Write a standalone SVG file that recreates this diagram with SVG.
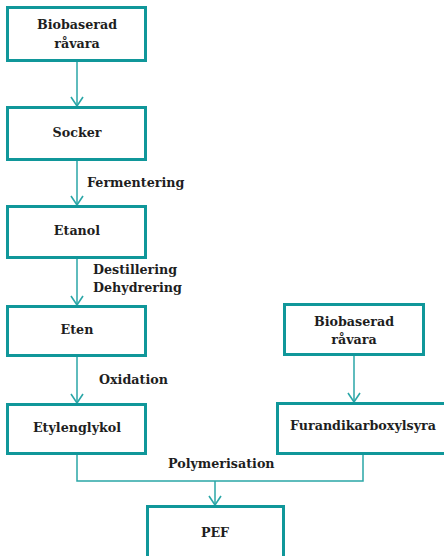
<svg xmlns="http://www.w3.org/2000/svg" width="444" height="556" viewBox="0 0 444 556">
  <style>
    .box { fill: #ffffff; stroke: #10979a; stroke-width: 3; }
    .lbl { font-family: "DejaVu Serif", "Liberation Serif", serif; font-weight: bold; font-size: 12.7px; fill: #1e1e1e; }
    .mid { text-anchor: middle; }
    .conn { fill: none; stroke: #2aa6a7; stroke-width: 1.5; }
  </style>
  <defs>
    <marker id="vhead" markerUnits="userSpaceOnUse" viewBox="-11 -8 12 16" markerWidth="12" markerHeight="16" refX="0" refY="0" orient="auto">
      <path d="M-9,-6 L0,0 L-9,6" fill="none" stroke="#2aa6a7" stroke-width="1.6"/>
    </marker>
  </defs>

  <rect width="444" height="556" fill="#ffffff"/>

  <g id="connectors">
    <line class="conn" x1="77" y1="62" x2="77" y2="106" marker-end="url(#vhead)"/>
    <line class="conn" x1="77" y1="161" x2="77" y2="205" marker-end="url(#vhead)"/>
    <line class="conn" x1="77" y1="259" x2="77" y2="305" marker-end="url(#vhead)"/>
    <line class="conn" x1="77" y1="357" x2="77" y2="403" marker-end="url(#vhead)"/>
    <line class="conn" x1="354" y1="356" x2="354" y2="402" marker-end="url(#vhead)"/>
    <polyline class="conn" points="77,455 77,481 363,481 363,455"/>
    <line class="conn" x1="215" y1="481" x2="215" y2="505" marker-end="url(#vhead)"/>
    <text class="lbl" x="87" y="187">Fermentering</text>
    <text class="lbl" x="93" y="274">Destillering</text>
    <text class="lbl" x="93" y="292">Dehydrering</text>
    <text class="lbl" x="99" y="384">Oxidation</text>
    <text class="lbl" x="168" y="468">Polymerisation</text>
  </g>

  <g id="biobaserad-1">
    <rect class="box" x="7.5" y="7.5" width="138" height="53"/>
    <text class="lbl mid" x="77" y="29">Biobaserad</text>
    <text class="lbl mid" x="77" y="48">råvara</text>
  </g>

  <g id="socker">
    <rect class="box" x="7.5" y="107.5" width="138" height="52"/>
    <text class="lbl mid" x="77" y="137">Socker</text>
  </g>

  <g id="etanol">
    <rect class="box" x="7.5" y="206.5" width="138" height="51"/>
    <text class="lbl mid" x="77" y="235">Etanol</text>
  </g>

  <g id="eten">
    <rect class="box" x="7.5" y="306.5" width="138" height="49"/>
    <text class="lbl mid" x="77" y="334">Eten</text>
  </g>

  <g id="etylenglykol">
    <rect class="box" x="7.5" y="404.5" width="138" height="49"/>
    <text class="lbl mid" x="77" y="432">Etylenglykol</text>
  </g>

  <g id="biobaserad-2">
    <rect class="box" x="284.5" y="304.5" width="139" height="50"/>
    <text class="lbl mid" x="354" y="326">Biobaserad</text>
    <text class="lbl mid" x="354" y="344">råvara</text>
  </g>

  <g id="furandikarboxylsyra">
    <rect class="box" x="277.5" y="403.5" width="180" height="50"/>
    <text class="lbl mid" x="363" y="430">Furandikarboxylsyra</text>
  </g>

  <g id="pef">
    <rect class="box" x="147.5" y="506.5" width="136" height="80"/>
    <text class="lbl mid" x="215" y="537">PEF</text>
  </g>
</svg>
